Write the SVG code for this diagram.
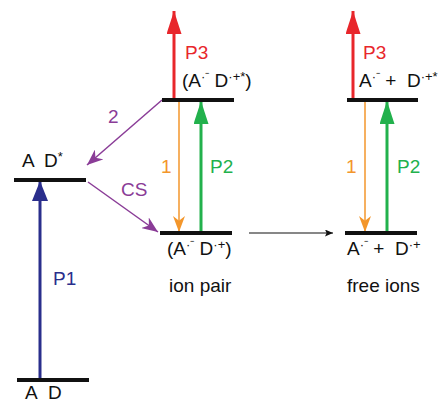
<svg xmlns="http://www.w3.org/2000/svg" width="440" height="404" viewBox="0 0 440 404">
<defs>
<style>
.lvl{stroke:#111;stroke-width:4}
text{font-family:"Liberation Sans",Arial,sans-serif;font-size:19px}
.k{fill:#111}.b{fill:#2a2e8c}.r{fill:#e8262b}.o{fill:#f3962b}.g{fill:#22b14c}.p{fill:#8a3c97}
.sup{font-size:13px}
</style>
<marker id="hb" viewBox="0 0 10 16" refX="10" refY="8" markerWidth="20" markerHeight="16" markerUnits="userSpaceOnUse" orient="auto" preserveAspectRatio="none"><path d="M0,0L10,8L0,16z" fill="#2a2e8c"/></marker>
<marker id="hr" viewBox="0 0 10 16" refX="10" refY="8" markerWidth="23" markerHeight="15" markerUnits="userSpaceOnUse" orient="auto" preserveAspectRatio="none"><path d="M0,0L10,8L0,16z" fill="#e8262b"/></marker>
<marker id="hg" viewBox="0 0 10 16" refX="10" refY="8" markerWidth="23" markerHeight="15" markerUnits="userSpaceOnUse" orient="auto" preserveAspectRatio="none"><path d="M0,0L10,8L0,16z" fill="#22b14c"/></marker>
<marker id="ho" viewBox="0 0 10 16" refX="10" refY="8" markerWidth="16" markerHeight="12" markerUnits="userSpaceOnUse" orient="auto" preserveAspectRatio="none"><path d="M0,0L10,8L0,16L3,8z" fill="#f3962b"/></marker>
<marker id="hp" viewBox="0 0 10 16" refX="10" refY="8" markerWidth="16" markerHeight="13" markerUnits="userSpaceOnUse" orient="auto" preserveAspectRatio="none"><path d="M0,0L10,8L0,16L3,8z" fill="#8a3c97"/></marker>
<marker id="hk" viewBox="0 0 10 10" refX="10" refY="5" markerWidth="8" markerHeight="7" markerUnits="userSpaceOnUse" orient="auto" preserveAspectRatio="none"><path d="M0,0L10,5L0,10L2,5z" fill="#111"/></marker>
</defs>
<g id="connectors">
<line x1="40" y1="379" x2="40" y2="181" stroke="#2a2e8c" stroke-width="3" marker-end="url(#hb)"/>
<line x1="174" y1="100" x2="174" y2="11" stroke="#e8262b" stroke-width="3" marker-end="url(#hr)"/>
<line x1="353" y1="100" x2="353" y2="11" stroke="#e8262b" stroke-width="3" marker-end="url(#hr)"/>
<line x1="179" y1="100" x2="179" y2="232" stroke="#f3962b" stroke-width="1.5" marker-end="url(#ho)"/>
<line x1="365" y1="100" x2="365" y2="232" stroke="#f3962b" stroke-width="1.5" marker-end="url(#ho)"/>
<line x1="201" y1="233" x2="201" y2="101" stroke="#22b14c" stroke-width="3" marker-end="url(#hg)"/>
<line x1="387" y1="233" x2="387" y2="101" stroke="#22b14c" stroke-width="3" marker-end="url(#hg)"/>
<line x1="162" y1="100" x2="87" y2="165" stroke="#8a3c97" stroke-width="1.5" marker-end="url(#hp)"/>
<line x1="88" y1="182" x2="158" y2="232" stroke="#8a3c97" stroke-width="1.5" marker-end="url(#hp)"/>
<line x1="249" y1="233" x2="333" y2="233" stroke="#111" stroke-width="1.2" marker-end="url(#hk)"/>
</g>
<g id="AD-ground"><line class="lvl" x1="17" y1="380" x2="89" y2="380"/><text class="k" x="25" y="399">A</text><text class="k" x="48" y="399">D</text></g>
<g id="AD-excited"><line class="lvl" x1="14" y1="180" x2="86" y2="180"/><text class="k" x="22" y="167">A</text><text class="k" x="44" y="167">D<tspan class="sup" dy="-6">*</tspan></text></g>
<g id="ionpair-excited"><line class="lvl" x1="162" y1="100" x2="234" y2="100"/><text class="k" x="182" y="87" xml:space="preserve">(A<tspan class="sup" dy="-6">·⁻</tspan><tspan dy="6"> D</tspan><tspan class="sup" dy="-6">·+*</tspan><tspan dy="6">)</tspan></text></g>
<g id="ionpair"><line class="lvl" x1="160" y1="233" x2="232" y2="233"/><text class="k" x="167" y="255" xml:space="preserve">(A<tspan class="sup" dy="-6">·⁻</tspan><tspan dy="6"> D</tspan><tspan class="sup" dy="-6">·+</tspan><tspan dy="6">)</tspan></text><text class="k" x="169" y="292">ion pair</text></g>
<g id="freeions-excited"><line class="lvl" x1="347" y1="100" x2="418" y2="100"/><text class="k" x="359" y="87" xml:space="preserve">A<tspan class="sup" dy="-6">·⁻</tspan><tspan dy="6"> +  D</tspan><tspan class="sup" dy="-6">·+*</tspan></text></g>
<g id="freeions"><line class="lvl" x1="345" y1="233" x2="417" y2="233"/><text class="k" x="347" y="255" xml:space="preserve">A<tspan class="sup" dy="-6">·⁻</tspan><tspan dy="6"> +  D</tspan><tspan class="sup" dy="-6">·+</tspan></text><text class="k" x="347" y="292">free ions</text></g>
<g id="labels">
<text class="b" x="53" y="285">P1</text>
<text class="r" x="185" y="59">P3</text>
<text class="r" x="363" y="59">P3</text>
<text class="o" x="161" y="173">1</text>
<text class="o" x="346" y="173">1</text>
<text class="g" x="210" y="173">P2</text>
<text class="g" x="397" y="173">P2</text>
<text class="p" x="108" y="123">2</text>
<text class="p" x="121" y="196">CS</text>
</g>
</svg>
